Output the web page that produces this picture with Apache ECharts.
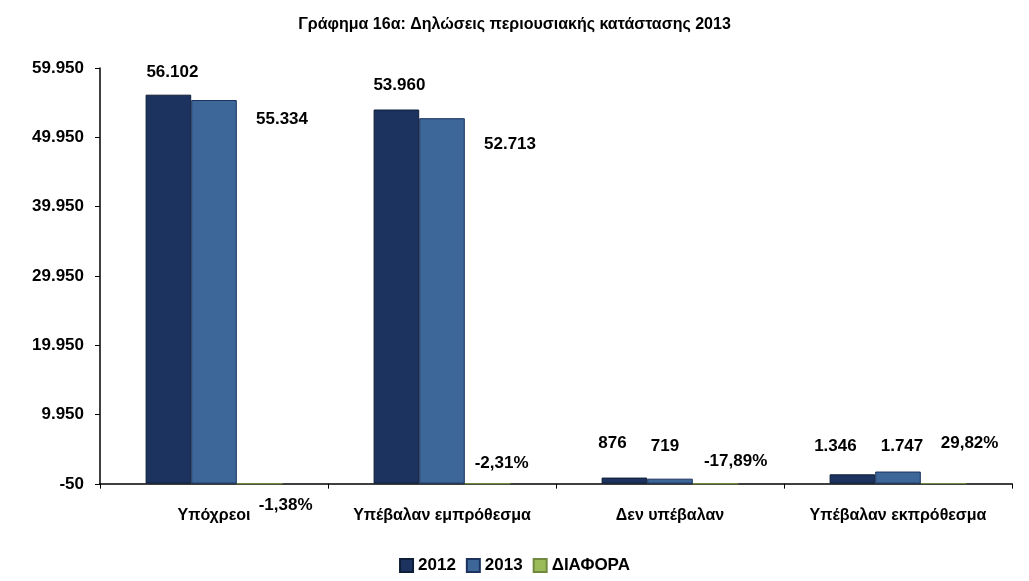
<!DOCTYPE html>
<html>
<head>
<meta charset="utf-8">
<script src="https://cdn.jsdelivr.net/npm/echarts@6/dist/echarts.min.js"></script>
<style>
  html, body { margin: 0; padding: 0; background: #fff; }
  #main { width: 1029px; height: 581px; }
</style>
</head>
<body>
<div id="main"></div>
<script>
// δεδομένα
let categories = ['Υπόχρεοι', 'Υπέβαλαν εμπρόθεσμα', 'Δεν υπέβαλαν', 'Υπέβαλαν εκπρόθεσμα']
let values2012 = [56102, 53960, 876, 1346]
let values2013 = [55334, 52713, 719, 1747]
let diffPct = [-1.38, -2.31, -17.89, 29.82]
let yTicks = [-50, 9950, 19950, 29950, 39950, 49950, 59950]

let fontFamily = '"Liberation Sans", Arial, sans-serif'

function fmtNum(v) {
  let s = Math.abs(v).toString().replace(/\B(?=(\d{3})+(?!\d))/g, '.')
  return (v < 0 ? '-' : '') + s
}
function fmtPct(v) {
  return v.toFixed(2).replace('.', ',') + '%'
}

// μετατοπίσεις ετικετών ανά κατηγορία
let off2012 = [[4, -9], [3, -11], [-12, -21], [-17, -15]]
let off2013 = [[68, 33], [68, 40], [-5, -19], [4, -12]]
let offDiff = [[26, 36], [14, -6], [20, -8], [26, -26]]

function withLabels(values, offsets) {
  return values.map((v, i) => ({
    value: v,
    label: { offset: offsets[i] }
  }))
}

let labelStyle = {
  show: true,
  position: 'top',
  color: '#000',
  fontFamily: fontFamily,
  fontSize: 17,
  fontWeight: 'bold'
}

let chart = echarts.init(document.getElementById('main'), null, { renderer: 'canvas' })

let option = {
  animation: false,
  backgroundColor: '#fff',
  title: {
    text: 'Γράφημα 16α: Δηλώσεις περιουσιακής κατάστασης 2013',
    left: 'center',
    top: 12,
    textStyle: { fontFamily: fontFamily, fontSize: 16, fontWeight: 'bold', color: '#000' }
  },
  legend: {
    bottom: 2,
    left: 'center',
    itemWidth: 13,
    itemHeight: 13,
    itemGap: 10,
    icon: 'rect',
    textStyle: { fontFamily: fontFamily, fontSize: 17, fontWeight: 'bold', color: '#000' },
    data: ['2012', '2013', 'ΔΙΑΦΟΡΑ']
  },
  grid: { left: 100, right: 17, top: 68, bottom: 97 },
  xAxis: {
    type: 'category',
    data: categories,
    axisLine: { lineStyle: { color: '#000', width: 1.5 } },
    axisTick: { show: true, length: 5, lineStyle: { color: '#000' } },
    axisLabel: {
      interval: 0,
      hideOverlap: false,
      margin: 24,
      color: '#000',
      fontFamily: fontFamily,
      fontSize: 16,
      fontWeight: 'bold'
    }
  },
  yAxis: {
    type: 'value',
    min: -50,
    max: 59950,
    axisLine: { show: true, lineStyle: { color: '#000', width: 1.5 } },
    axisTick: { show: true, length: 5, lineStyle: { color: '#000' }, customValues: yTicks },
    splitLine: { show: false },
    axisLabel: {
      customValues: yTicks,
      margin: 16,
      color: '#000',
      fontFamily: fontFamily,
      fontSize: 17,
      fontWeight: 'bold',
      formatter: v => fmtNum(v)
    }
  },
  series: [
    {
      name: '2012',
      type: 'bar',
      barGap: '0%',
      barCategoryGap: '40%',
      itemStyle: { color: '#1b335e', borderColor: '#0e1d38', borderWidth: 1 },
      label: Object.assign({}, labelStyle, { formatter: p => fmtNum(p.value) }),
      data: withLabels(values2012, off2012)
    },
    {
      name: '2013',
      type: 'bar',
      itemStyle: { color: '#3d6699', borderColor: '#1b335e', borderWidth: 1 },
      label: Object.assign({}, labelStyle, { formatter: p => fmtNum(p.value) }),
      data: withLabels(values2013, off2013)
    },
    {
      name: 'ΔΙΑΦΟΡΑ',
      type: 'bar',
      itemStyle: { color: '#9bbb59', borderColor: '#71893f', borderWidth: 1 },
      label: Object.assign({}, labelStyle, { formatter: p => fmtPct(p.value) }),
      data: withLabels(diffPct, offDiff)
    }
  ]
}

chart.setOption(option)
</script>
</body>
</html>
